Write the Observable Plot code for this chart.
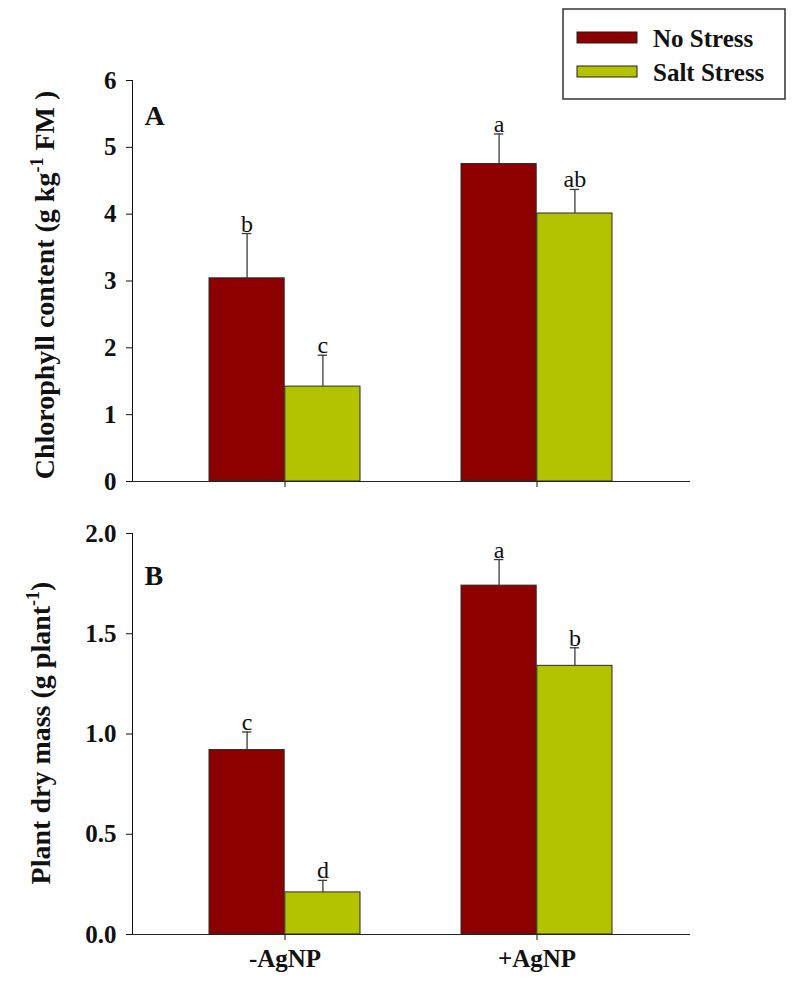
<!DOCTYPE html>
<html>
<head>
<meta charset="utf-8">
<script src="https://cdn.jsdelivr.net/npm/d3@7"></script>
<script src="https://cdn.jsdelivr.net/npm/@observablehq/plot@0.6"></script>
<style>
  body { margin: 0; background: #fff; }
  #wrap { position: relative; width: 796px; height: 982px; background: #fff; }
  #wrap > svg { display: block; }
  #legend { position: absolute; left: 562px; top: 8px; }
</style>
</head>
<body>
<div id="wrap"></div>
<script>
// ---------- data ----------
const groups = ["-AgNP", "+AgNP"];
const series = ["No Stress", "Salt Stress"];
const colors = ["#8d0000", "#b4c300"];

// Panel A: chlorophyll content (g kg-1 FM)
const chlNoStress = [3.04, 4.75];
const chlNoStressErr = [0.67, 0.45];
const chlSalt = [1.42, 4.01];
const chlSaltErr = [0.47, 0.36];
const chlNoStressLetters = ["b", "a"];
const chlSaltLetters = ["c", "ab"];

// Panel B: plant dry mass (g plant-1)
const massNoStress = [0.92, 1.74];
const massNoStressErr = [0.09, 0.13];
const massSalt = [0.21, 1.34];
const massSaltErr = [0.06, 0.09];
const massNoStressLetters = ["c", "a"];
const massSaltLetters = ["d", "b"];

const chlTicks = [0, 1, 2, 3, 4, 5, 6];
const massTicks = [0, 0.5, 1.0, 1.5, 2.0];

function rows(vals, errs, letters, s) {
  return groups.map((g, i) => ({group: g, series: s, value: vals[i], err: errs[i], letter: letters[i]}));
}

const FONT = '"Liberation Serif", "Times New Roman", serif';
const W = 796, ML = 132, MR = 106;
const PI = 0.4, PO = 0.304;

function panel(opt) {
  const step = (W - ML - MR) / (groups.length - PI + 2 * PO);
  const bw = step * (1 - PI);
  const half = bw / 2;
  const cap = 5;
  const no = rows(opt.no, opt.noErr, opt.noLet, series[0]);
  const salt = rows(opt.salt, opt.saltErr, opt.saltLet, series[1]);
  const top = d => d.value + d.err;
  const errStroke = "#3a3a3a";
  const svg = Plot.plot({
    width: W,
    height: opt.height,
    marginTop: opt.mt,
    marginBottom: opt.mb,
    marginLeft: ML,
    marginRight: MR,
    style: {fontFamily: FONT, fontSize: "25px", fontWeight: "bold", color: "#111", background: "#fff", overflow: "visible"},
    x: {domain: groups, paddingInner: PI, paddingOuter: PO, tickSize: 6, tickPadding: 9, label: null,
        tickFormat: opt.showX ? (d => d) : (() => "")},
    y: {domain: opt.domain, ticks: opt.ticks, tickFormat: opt.fmt, tickSize: 6, tickPadding: 10, label: null, line: true},
    marks: [
      Plot.barY(no, {x: "group", y: "value", fill: colors[0], stroke: "#2b2b2b", strokeWidth: 1, insetRight: half}),
      Plot.barY(salt, {x: "group", y: "value", fill: colors[1], stroke: "#2b2b2b", strokeWidth: 1, insetLeft: half}),
      Plot.ruleX(no, {x: "group", y1: "value", y2: top, dx: -half / 2, stroke: errStroke, strokeWidth: 1.3}),
      Plot.ruleX(salt, {x: "group", y1: "value", y2: top, dx: half / 2, stroke: errStroke, strokeWidth: 1.3}),
      Plot.tickY(no, {x: "group", y: top, insetLeft: half / 2 - cap, insetRight: bw - half / 2 - cap, stroke: errStroke, strokeWidth: 1.3}),
      Plot.tickY(salt, {x: "group", y: top, insetLeft: bw - half / 2 - cap, insetRight: half / 2 - cap, stroke: errStroke, strokeWidth: 1.3}),
      Plot.text(no, {x: "group", y: top, text: "letter", dx: -half / 2, dy: -2, lineAnchor: "bottom", fontSize: 24, fontWeight: "normal", fill: "#111"}),
      Plot.text(salt, {x: "group", y: top, text: "letter", dx: half / 2, dy: -2, lineAnchor: "bottom", fontSize: 24, fontWeight: "normal", fill: "#111"}),
      Plot.text([opt.panelLetter], {text: d => d, frameAnchor: "top-left", dx: 12, dy: opt.letterDy, lineAnchor: "top", fontSize: 28, fontWeight: "bold", fill: "#111"}),
      Plot.ruleY([0], {stroke: "#222", strokeWidth: 1.2})
    ]
  });
  // rotated y-axis title with superscript
  const s = d3.select(svg);
  const t = s.append("text")
    .attr("transform", `translate(${opt.labelX},${opt.labelY}) rotate(-90)`)
    .attr("text-anchor", "middle")
    .attr("font-family", FONT)
    .attr("font-size", 28)
    .attr("font-weight", "bold")
    .attr("fill", "#111");
  t.append("tspan").text(opt.label[0]);
  t.append("tspan").attr("dy", -11).attr("font-size", 18).text(opt.label[1]);
  t.append("tspan").attr("dy", 11).text(opt.label[2]);
  return svg;
}

const wrap = document.getElementById("wrap");

wrap.appendChild(panel({
  height: 500, mt: 80, mb: 19,
  domain: [0, 6], ticks: chlTicks, fmt: d3.format("d"),
  no: chlNoStress, noErr: chlNoStressErr, noLet: chlNoStressLetters,
  salt: chlSalt, saltErr: chlSaltErr, saltLet: chlSaltLetters,
  panelLetter: "A", letterDy: 25, showX: false,
  label: ["Chlorophyll content (g kg", "-1", " FM )"], labelX: 54, labelY: 285
}));

wrap.appendChild(panel({
  height: 482, mt: 33, mb: 48,
  domain: [0, 2], ticks: massTicks, fmt: d3.format(".1f"),
  no: massNoStress, noErr: massNoStressErr, noLet: massNoStressLetters,
  salt: massSalt, saltErr: massSaltErr, saltLet: massSaltLetters,
  panelLetter: "B", letterDy: 32, showX: true,
  label: ["Plant dry mass (g plant", "-1", ")"], labelX: 50, labelY: 233
}));

// legend
const lg = d3.select(wrap).append("svg").attr("id", "legend").attr("width", 226).attr("height", 94);
lg.append("rect").attr("x", 1).attr("y", 1).attr("width", 222).attr("height", 90)
  .attr("fill", "#fff").attr("stroke", "#333").attr("stroke-width", 1.5);
series.forEach((name, i) => {
  const y = 24 + i * 34;
  lg.append("rect").attr("x", 15).attr("y", y).attr("width", 60).attr("height", 11)
    .attr("fill", colors[i]).attr("stroke", "#222").attr("stroke-width", 1);
  lg.append("text").attr("x", 91).attr("y", y + 15)
    .attr("font-family", FONT).attr("font-size", 25).attr("font-weight", "bold").attr("fill", "#111")
    .text(name);
});
</script>
</body>
</html>
